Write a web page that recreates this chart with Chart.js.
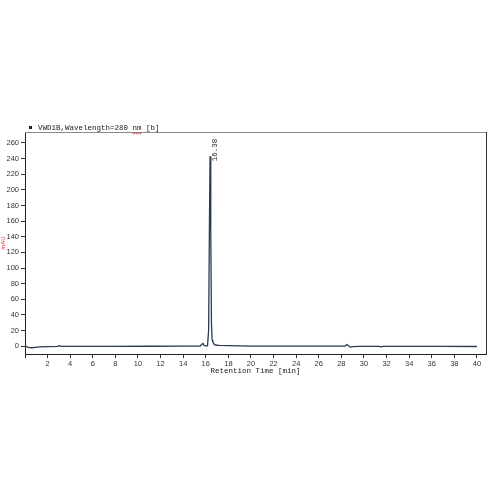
<!DOCTYPE html>
<html>
<head>
<meta charset="utf-8">
<script src="https://cdn.jsdelivr.net/npm/chart.js@4/dist/chart.umd.min.js"></script>
<style>
html,body{margin:0;padding:0;background:#fff;}
#wrap{width:497px;height:497px;position:relative;}
</style>
</head>
<body>
<div id="wrap"><canvas id="c" width="497" height="497"></canvas></div>
<script>
const chartTitle = "VWD1B,Wavelength=280 nm [b]";
const xAxisTitle = "Retention Time [min]";
const yAxisTitle = "mAU";
const peakLabel = "16.38";
const peakTime = 16.38;
const peakHeight = 243;

const retentionTime = [0.05, 0.3, 0.6, 0.9, 1.3, 2.0, 2.9, 3.05, 3.2, 5, 8, 11, 14, 15.5, 15.65, 15.75, 15.85, 16.0, 16.15, 16.25, 16.32, 16.38, 16.44, 16.5, 16.56, 16.62, 16.7, 16.85, 17.2, 18, 20, 24, 28.3, 28.5, 28.65, 28.8, 29.0, 29.5, 31.3, 31.5, 31.7, 34, 37, 40];
const absorbance = [0, -1.5, -2, -1.5, -0.8, -0.5, -0.3, 0.6, -0.2, -0.2, -0.2, -0.1, 0, 0.2, 2.5, 3.5, 1, 0.3, 0.5, 20, 150, 243, 150, 30, 8, 6, 3, 1.5, 1, 0.6, 0.2, 0, 0.2, 2, 0.2, -1.2, -0.5, -0.3, -0.3, -0.8, -0.3, -0.3, -0.3, -0.4];

const points = retentionTime.map((t, i) => ({x: t, y: absorbance[i]}));
const MONO = "'Liberation Mono', 'DejaVu Sans Mono', monospace";
const SANS = "'Liberation Sans', Arial, sans-serif";

const decorations = {
  id: 'decorations',
  afterDraw(chart) {
    const ctx = chart.ctx;
    const a = chart.chartArea;
    ctx.save();
    // top and right frame
    ctx.lineWidth = 1;
    ctx.strokeStyle = '#8a8a8a';
    ctx.beginPath(); ctx.moveTo(a.left, a.top + 0.5); ctx.lineTo(a.right, a.top + 0.5); ctx.stroke();
    ctx.strokeStyle = '#333';
    ctx.beginPath(); ctx.moveTo(a.right + 0.5, a.top); ctx.lineTo(a.right + 0.5, a.bottom); ctx.stroke();
    // title
    ctx.fillStyle = '#222';
    ctx.fillRect(29, 126, 3, 3);
    ctx.font = "7.5px " + MONO;
    ctx.textBaseline = 'middle';
    ctx.textAlign = 'left';
    ctx.fillText(chartTitle, 38, 128);
    // red squiggle under "nm"
    const pre = ctx.measureText(chartTitle.slice(0, chartTitle.indexOf('nm'))).width;
    const w = ctx.measureText('nm').width;
    ctx.strokeStyle = '#e03030';
    ctx.lineWidth = 0.8;
    ctx.beginPath();
    for (let k = 0; k <= w; k += 1.5) {
      const yy = 133 + ((k / 1.5) % 2 ? 1 : 0);
      if (k === 0) ctx.moveTo(38 + pre + k, yy); else ctx.lineTo(38 + pre + k, yy);
    }
    ctx.stroke();
    // peak label
    const xs = chart.scales.x, ys = chart.scales.y;
    const px = xs.getPixelForValue(peakTime) + 5;
    const py = ys.getPixelForValue(peakHeight) + 5;
    ctx.translate(px, py);
    ctx.rotate(-Math.PI / 2);
    ctx.fillStyle = '#222';
    ctx.textAlign = 'left';
    ctx.textBaseline = 'middle';
    ctx.font = "7.5px " + MONO;
    ctx.fillText(peakLabel, 0, 0);
    ctx.restore();
  }
};

new Chart(document.getElementById('c'), {
  type: 'line',
  data: {
    datasets: [{
      data: points,
      borderColor: '#2b3a50',
      borderWidth: 1.3,
      pointRadius: 0,
      tension: 0,
      fill: false
    }]
  },
  options: {
    responsive: false,
    animation: false,
    events: [],
    layout: {padding: {left: 0, right: 11, top: 132, bottom: 119}},
    plugins: {legend: {display: false}, tooltip: {enabled: false}},
    scales: {
      x: {
        type: 'linear',
        min: 0,
        max: 40.8,
        afterFit(s) { s.height = 24; },
        ticks: {
          stepSize: 2,
          includeBounds: false,
          maxRotation: 0,
          autoSkip: false,
          padding: 1,
          color: '#333',
          font: {family: SANS, size: 7.5},
          callback: v => (v === 0 ? '' : String(v))
        },
        grid: {display: true, drawOnChartArea: false, drawTicks: true, tickLength: 4, color: '#333'},
        border: {display: true, color: '#222', width: 1},
        title: {display: true, text: xAxisTitle, color: '#222', font: {family: MONO, size: 7.5}, padding: {top: 0, bottom: 2}}
      },
      y: {
        min: -10,
        max: 274,
        afterFit(s) { s.width = 25; },
        ticks: {
          stepSize: 20,
          includeBounds: false,
          padding: 2,
          color: '#333',
          font: {family: SANS, size: 7.5}
        },
        grid: {display: true, drawOnChartArea: false, drawTicks: true, tickLength: 4, color: '#333'},
        border: {display: true, color: '#222', width: 1},
        title: {display: true, text: yAxisTitle, color: '#e03030', font: {family: SANS, size: 6}, padding: 0}
      }
    }
  },
  plugins: [decorations]
});
</script>
</body>
</html>
